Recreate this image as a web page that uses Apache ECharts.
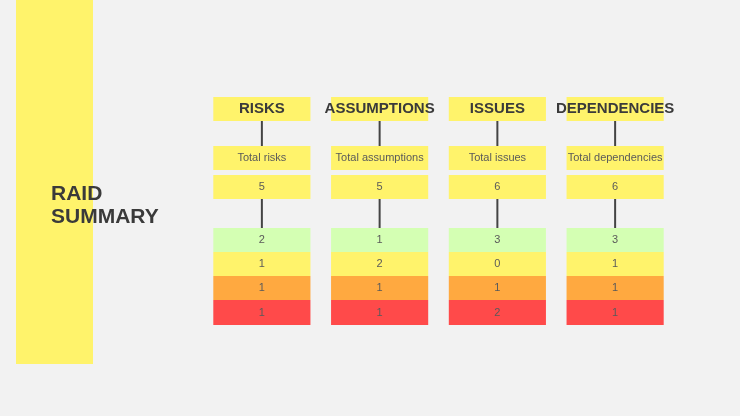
<!DOCTYPE html>
<html><head><meta charset="utf-8">
<script src="https://cdn.jsdelivr.net/npm/echarts@6/dist/echarts.min.js"></script>
<style>html,body{margin:0;background:#f2f2f2}#c{width:740px;height:416px}</style>
</head><body><div id="c"></div>
<script>
const categories = ['RISKS','ASSUMPTIONS','ISSUES','DEPENDENCIES'];
const totalLabels = ['Total risks','Total assumptions','Total issues','Total dependencies'];
const totals = [5,5,6,6];
const lowValues = [2,1,3,3];
const mediumValues = [1,2,0,1];
const highValues = [1,1,1,1];
const criticalValues = [1,1,2,1];

const YEL='#fff36b', colors=['#d4ffb3','#fff36b','#ffa940','#ff4a4a'];
const TXT='#5a5a5a';
const chart = echarts.init(document.getElementById('c'));
const data = categories.map((c,i)=>[i,totals[i],lowValues[i],mediumValues[i],highValues[i],criticalValues[i]]);
function renderItem(params, api){
  const i = api.value(0);
  const cx = api.coord([i,0])[0];
  const w = api.size([1,0])[0]*0.825;
  const x0 = cx - w/2;
  const Y = v => api.coord([i,v])[1];
  const ch = [];
  const box=(y1,y2,fill,text,font)=>{
    ch.push({type:'rect',shape:{x:x0,y:Y(y1),width:w,height:Y(y2)-Y(y1)},style:{fill:fill}});
    ch.push({type:'text',style:{text:text,x:cx,y:(Y(y1)+Y(y2))/2,align:'center',verticalAlign:'middle',fill:font?'#3a3a3a':TXT,font:font||'11px "Liberation Sans Narrow", sans-serif'}});
  };
  const line=(y1,y2)=>ch.push({type:'line',shape:{x1:cx,y1:Y(y1),x2:cx,y2:Y(y2)},style:{stroke:'#444',lineWidth:2}});
  line(121,146); line(199,228);
  box(97,121,YEL,categories[i],'bold 15px "Liberation Sans Narrow", sans-serif');
  box(146,170,YEL,totalLabels[i]);
  box(175,199,YEL,String(api.value(1)));
  const rows=[[228,252],[252,276],[276,300],[300,325]];
  rows.forEach((r,k)=>box(r[0],r[1],colors[k],String(api.value(2+k))));
  return {type:'group',children:ch};
}
chart.setOption({
  backgroundColor:'#f2f2f2',
  animation:false,
  grid:{left:203,right:66,top:0,bottom:0},
  xAxis:{type:'category',data:categories,show:false},
  yAxis:{type:'value',min:0,max:416,inverse:true,show:false},
  graphic:[
    {type:'rect',shape:{x:16,y:0,width:77,height:364},style:{fill:YEL}},
    {type:'text',left:51,top:183,style:{text:'RAID\nSUMMARY',fill:'#3a3a3a',font:'bold 21px "Liberation Sans Narrow", sans-serif',lineHeight:23}}
  ],
  series:[{type:'custom',renderItem:renderItem,data:data,encode:{x:0,y:1}}]
});
</script></body></html>
